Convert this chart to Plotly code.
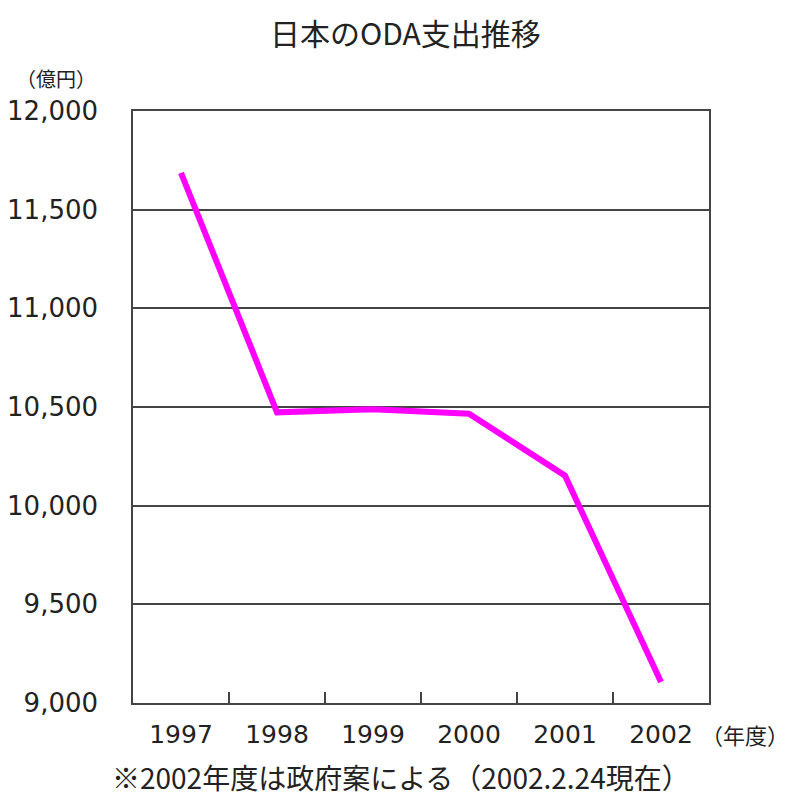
import plotly.graph_objects as go

years = ["1997", "1998", "1999", "2000", "2001", "2002"]
oda = [11687, 10473, 10489, 10466, 10152, 9106]
y_ticks = [9000, 9500, 10000, 10500, 11000, 11500, 12000]
y_tick_labels = ["9,000", "9,500", "10,000", "10,500", "11,000", "11,500", "12,000"]

title_text = "日本のODA支出推移"
y_unit = "（億円）"
x_unit = "（年度）"
note = "※2002年度は政府案による（2002.2.24現在）"

W, H = 800, 806
OX, OY = 7, 7  # page offset of the figure in the browser
# desired plot box in screen pixels
sx0, sx1, sy0, sy1 = 132, 708, 110, 702
L, T = sx0 - OX, sy0 - OY
R, B = W - (sx1 - OX), H - (sy1 - OY)
pw, ph = W - L - R, H - T - B


def px(x):
    return (x - sx0) / pw


def py(y):
    return (sy1 - y) / ph


font_cjk = "Noto Sans CJK JP"
font_num = "DejaVu Sans"

fig = go.Figure()
fig.add_trace(go.Scatter(
    x=years, y=oda, mode="lines",
    line=dict(color="#FF00FF", width=6),
    hoverinfo="x+y",
))

fig.update_layout(
    width=W, height=H,
    margin=dict(l=L, r=R, t=T, b=B, autoexpand=False),
    paper_bgcolor="white", plot_bgcolor="white",
    showlegend=False,
    xaxis=dict(
        type="category", categoryorder="array", categoryarray=years,
        tickson="boundaries", ticks="inside", ticklen=11, tickcolor="#444", tickwidth=1.5,
        showgrid=False, showline=True, linecolor="#444", linewidth=1.5, mirror=True,
        tickfont=dict(family=font_num, size=25, color="#222"),
        ticklabelstandoff=8, automargin=False,
        range=[-0.5, 5.5],
    ),
    yaxis=dict(
        range=[9000, 12000], tickvals=y_ticks, ticktext=y_tick_labels,
        showgrid=True, gridcolor="#444", gridwidth=1.5,
        showline=True, linecolor="#444", linewidth=1.5, mirror=True,
        ticks="", tickfont=dict(family=font_num, size=26, color="#222"),
        ticklabelstandoff=28, zeroline=False, automargin=False,
    ),
    annotations=[
        dict(text=title_text, xref="paper", yref="paper", x=px(404), y=py(31),
             xanchor="center", yanchor="middle", showarrow=False,
             font=dict(family=font_cjk, size=30, color="#222")),
        dict(text=y_unit, xref="paper", yref="paper", x=px(55), y=py(77),
             xanchor="center", yanchor="middle", showarrow=False,
             font=dict(family=font_cjk, size=20, color="#222")),
        dict(text=x_unit, xref="paper", yref="paper", x=px(698), y=py(733),
             xanchor="left", yanchor="middle", showarrow=False,
             font=dict(family=font_cjk, size=22, color="#222")),
        dict(text=note, xref="paper", yref="paper", x=px(400), y=py(776),
             xanchor="center", yanchor="middle", showarrow=False,
             font=dict(family=font_cjk, size=28, color="#222")),
    ],
)

fig.write_html("out.html")
